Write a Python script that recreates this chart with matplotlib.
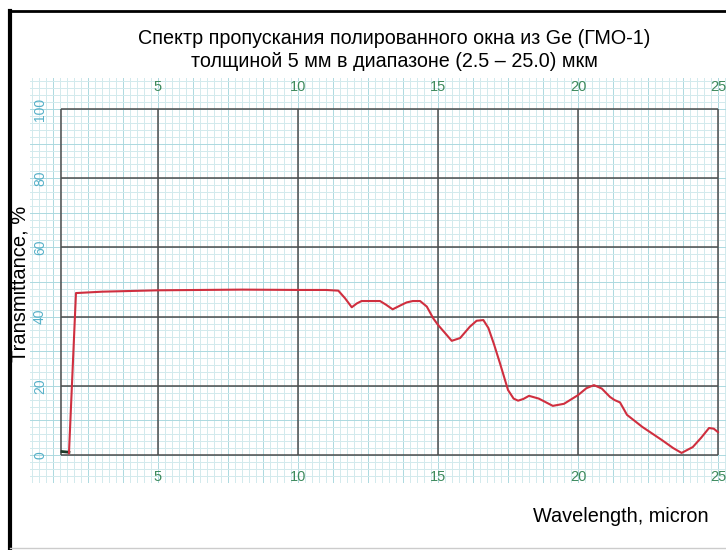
import numpy as np
import matplotlib.pyplot as plt
from matplotlib.lines import Line2D

# transmittance curve
wavelength = [1.82, 2.07, 3.0, 5.0, 8.0, 10.07, 11.0, 11.44, 11.68, 11.92, 12.1,
              12.27, 12.93, 13.15, 13.38, 13.65, 13.88, 14.1, 14.36, 14.6, 14.83,
              15.0, 15.31, 15.49, 15.79, 16.14, 16.38, 16.62, 16.8, 17.0, 17.21,
              17.5, 17.7, 17.86, 18.05, 18.25, 18.6, 19.1, 19.5, 20.0, 20.3,
              20.57, 20.85, 21.14, 21.3, 21.5, 21.75, 22.3, 23.0, 23.4, 23.7,
              24.1, 24.4, 24.68, 24.85, 25.0]
transmittance = [0.5, 46.8, 47.2, 47.6, 47.8, 47.7, 47.7, 47.5, 45.3, 42.7, 43.8,
                 44.5, 44.5, 43.4, 42.1, 43.2, 44.1, 44.5, 44.5, 42.9, 39.5,
                 37.6, 34.7, 33.0, 33.8, 37.1, 38.8, 39.0, 36.7, 32.0, 26.6,
                 18.8, 16.3, 15.7, 16.2, 17.1, 16.3, 14.2, 14.8, 17.3, 19.3,
                 20.2, 19.2, 16.8, 15.9, 15.2, 11.6, 8.1, 4.3, 2.0, 0.6,
                 2.3, 5.0, 7.8, 7.6, 6.6]
# short dark trace at the start of the baseline
start_wl = [1.57, 1.82]
start_t = [1.0, 0.8]

x_major = [5, 10, 15, 20, 25]
y_major = [0, 20, 40, 60, 80, 100]
x_left = 1.55

title = ("Спектр пропускания полированного окна из Ge (ГМО-1)\n"
         "толщиной 5 мм в диапазоне (2.5 – 25.0) мкм")

plt.rcParams['font.family'] = ['Liberation Sans', 'DejaVu Sans']

W, H = 726, 550
fig = plt.figure(figsize=(W / 100, H / 100), dpi=100)
ax = fig.add_axes([30 / W, 1 - 483 / H, 696 / W, 405 / H])

# pixel -> data mapping of the paper (28 px per micron, 3.46 px per %)
ax.set_xlim(5 + (30 - 158) / 28, 5 + (726 - 158) / 28)
ax.set_ylim((455 - 483) / 3.46, (455 - 78) / 3.46)
for s in ax.spines.values():
    s.set_visible(False)
ax.set_xticks([])
ax.set_yticks([])

# graph paper
for xv in np.arange(0.5, 25.5, 0.25):
    mid = abs(xv / 1.25 - round(xv / 1.25)) < 1e-6
    ax.axvline(xv, color='#acd9e0' if mid else '#d2eaed', lw=0.7, zorder=0)
for yv in np.arange(-8, 110, 2):
    mid = yv % 10 == 0
    ax.axhline(yv, color='#acd9e0' if mid else '#d2eaed', lw=0.7, zorder=0)

# main frame of the chart
ax.hlines(y_major, x_left, 25, color='#4d4d4d', lw=1.1, zorder=1)
ax.vlines([x_left] + x_major, 0, 100, color='#4d4d4d', lw=1.1, zorder=1)

ax.plot(start_wl, start_t, color='#1e3a2a', lw=2, zorder=2)
ax.plot(wavelength, transmittance, color='#cf2f3f', lw=1.5, zorder=3)

# paper labels
for v in y_major:
    ax.text(0.79, v, str(v), color='#55b0c8', fontsize=10, rotation=90,
            ha='center', va='center')
for v in x_major:
    ax.text(v, 106.4, str(v), color='#3d8a5c', fontsize=10.5, ha='center', va='center')
    ax.text(v, -6.4, str(v), color='#3d8a5c', fontsize=10.5, ha='center', va='center')

fig.text(394 / W, 1 - 50 / H, title, ha='center', va='center', fontsize=14.2,
         linespacing=1.33)
fig.text(20 / W, 1 - 284 / H, 'Transmittance, %', rotation=90, ha='center',
         va='center', fontsize=14.5)
fig.text(621 / W, 1 - 517 / H, 'Wavelength, micron', ha='center', va='center',
         fontsize=14.3)

# outer frame
fig.add_artist(Line2D([10 / W, 10 / W], [1 - 11 / H, 1 - 548 / H], color='black', lw=3))
fig.add_artist(Line2D([10 / W, 1], [1 - 11 / H, 1 - 11 / H], color='black', lw=2))
fig.add_artist(Line2D([10 / W, 1], [1 - 548 / H, 1 - 548 / H], color='#cccccc', lw=1))

fig.savefig('out.png', dpi=100)
